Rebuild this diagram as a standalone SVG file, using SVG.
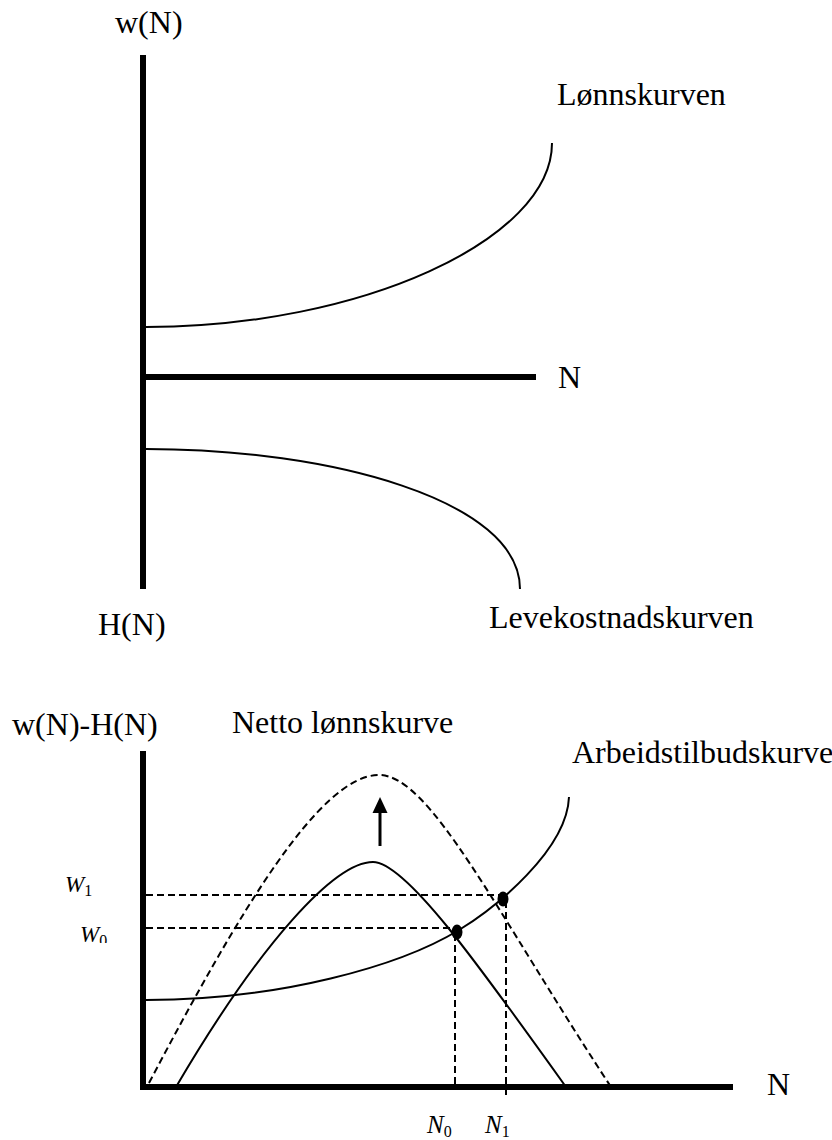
<svg xmlns="http://www.w3.org/2000/svg" width="832" height="1140" viewBox="0 0 832 1140">
<style>
.lbl{font-family:"Liberation Serif","Times New Roman",serif;font-size:32px;fill:#000}
.math{font-family:"Liberation Serif","Times New Roman",serif;font-style:italic;font-size:23px;fill:#000}
.nlab{font-size:25px}
.sub{font-size:16px;font-style:normal}
.axis{stroke:#000;stroke-width:6;fill:none}
.curve{stroke:#000;stroke-width:2;fill:none}
.dash{stroke:#000;stroke-width:2;fill:none;stroke-dasharray:7 4}
</style>
<defs>
<clipPath id="clipW0"><rect x="60" y="900" width="60" height="43"/></clipPath>
</defs>
<g id="top-chart">
<g id="top-axes">
<line class="axis" x1="143" y1="55" x2="143" y2="589"/>
<line class="axis" x1="140" y1="377" x2="536" y2="377"/>
<text class="lbl" x="115" y="33">w(N)</text>
<text class="lbl" x="558" y="388">N</text>
<text class="lbl" x="98" y="635">H(N)</text>
</g>
<g id="lonnskurven">
<path class="curve" d="M146,327 C360,327 552,240 552,143"/>
<text class="lbl" x="557" y="105">Lønnskurven</text>
</g>
<g id="levekostnadskurven">
<path class="curve" d="M146,449 C330,449 520,500 520,589"/>
<text class="lbl" x="489" y="628">Levekostnadskurven</text>
</g>
</g>
<g id="bottom-chart">
<g id="bottom-axes">
<line class="axis" x1="143" y1="751" x2="143" y2="1090"/>
<line class="axis" x1="140" y1="1087" x2="733" y2="1087"/>
<text class="lbl" x="12" y="735">w(N)-H(N)</text>
<text class="lbl" x="767" y="1095">N</text>
</g>
<g id="netto-lonnskurve">
<path class="curve" d="M176,1087 C261,942 335,862 373,862 C405,862 476,961 566,1087"/>
<text class="lbl" x="232" y="733">Netto lønnskurve</text>
</g>
<g id="netto-lonnskurve-shifted">
<path class="dash" d="M149,1083 C239,912 320,775 379,775 C430,775 495,910 611,1087"/>
</g>
<g id="arbeidstilbudskurve">
<path class="curve" d="M146,1000 C280,1000 400,966 459,930 C495,908 567,850 569,797"/>
<text class="lbl" x="572" y="763">Arbeidstilbudskurve</text>
</g>
<g id="shift-arrow">
<line x1="380" y1="846" x2="380" y2="810" stroke="#000" stroke-width="3"/>
<polygon points="380,797 372.5,813 387.5,813" fill="#000"/>
</g>
<g id="equilibrium-0">
<ellipse cx="457" cy="932" rx="5.5" ry="7.5" fill="#000"/>
<text class="math" x="65" y="892">W<tspan class="sub" dy="4">1</tspan></text>
</g>
<g id="equilibrium-1">
<ellipse cx="503" cy="899" rx="5.5" ry="7.5" fill="#000"/>
<text class="math" x="80" y="942" clip-path="url(#clipW0)">W<tspan class="sub" dy="4">0</tspan></text>
</g>
<g id="n-labels">
<text class="math nlab" x="427" y="1133">N<tspan class="sub" dy="4">0</tspan></text>
<text class="math nlab" x="485" y="1133">N<tspan class="sub" dy="4">1</tspan></text>
</g>
</g>
<g id="connectors">
<line class="dash" x1="146" y1="895" x2="503" y2="895"/>
<line class="dash" x1="146" y1="928" x2="457" y2="928"/>
<line class="dash" x1="455" y1="934" x2="455" y2="1087"/>
<line class="dash" x1="506" y1="901" x2="506" y2="1097"/>
</g>
</svg>
